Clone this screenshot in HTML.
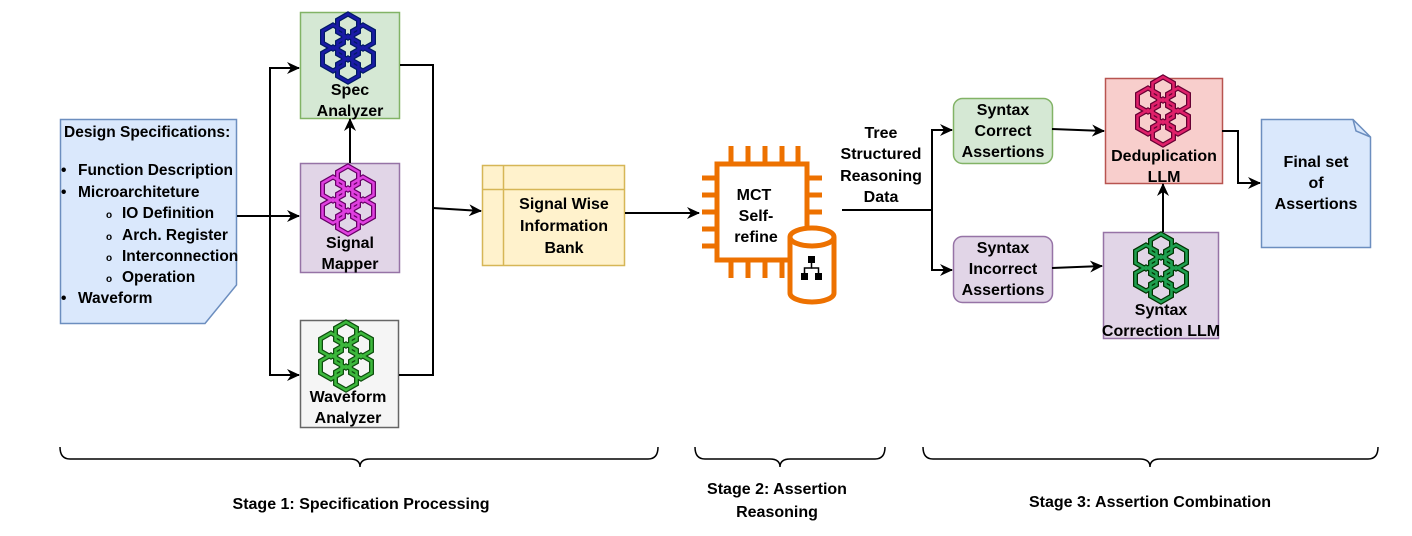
<!DOCTYPE html>
<html><head><meta charset="utf-8"><style>
html,body{margin:0;padding:0;background:#fff;}
svg{display:block;font-family:"Liberation Sans",Arial,sans-serif;font-weight:bold;}
</style></head><body>
<svg width="1412" height="536" viewBox="0 0 1412 536" xmlns="http://www.w3.org/2000/svg">
<defs>
<marker id="a" markerWidth="13" markerHeight="12" refX="12" refY="6" orient="auto" markerUnits="userSpaceOnUse">
<path d="M0,0 L13,6 L0,12 L4,6 z" fill="#000"/></marker>
<g id="hx">
<polygon points="0,-12 10.5,-6 10.5,6 0,12 -10.5,6 -10.5,-6" fill="none"/>
</g>
<g id="ic">
<use href="#hx" x="0" y="-22"/>
<use href="#hx" x="-15" y="-11"/>
<use href="#hx" x="15" y="-11"/>
<use href="#hx" x="0" y="0"/>
<use href="#hx" x="-15" y="11"/>
<use href="#hx" x="15" y="11"/>
<use href="#hx" x="0" y="22"/>
</g>
</defs>

<!-- Design spec doc -->
<path d="M60.5,119.5 H236.5 V285 L205,323.5 H60.5 Z" fill="#dae8fc" stroke="#6c8ebf" stroke-width="1.5"/>
<g font-size="15.5" fill="#000">
<text x="64" y="137">Design Specifications:</text>
<text x="61" y="175">•</text><text x="78" y="175">Function Description</text>
<text x="61" y="197">•</text><text x="78" y="197">Microarchiteture</text>
<text x="106" y="218" font-size="10">o</text><text x="122" y="218">IO Definition</text>
<text x="106" y="240" font-size="10">o</text><text x="122" y="240">Arch. Register</text>
<text x="106" y="261" font-size="10">o</text><text x="122" y="261">Interconnection</text>
<text x="106" y="282" font-size="10">o</text><text x="122" y="282">Operation</text>
<text x="61" y="303">•</text><text x="78" y="303">Waveform</text>
</g>

<!-- Stage 1 boxes -->
<rect x="300.5" y="12.5" width="99" height="106" fill="#d5e8d4" stroke="#82b366" stroke-width="1.5"/>
<rect x="300.5" y="163.5" width="99" height="109" fill="#e1d5e7" stroke="#9673a6" stroke-width="1.5"/>
<rect x="300.5" y="320.5" width="98" height="107" fill="#f5f5f5" stroke="#666" stroke-width="1.5"/>
<g stroke="#001a66" stroke-width="5"><use href="#ic" x="348" y="48"/></g>
<g stroke="#1a1aa6" stroke-width="2.5"><use href="#ic" x="348" y="48"/></g>
<g stroke="#660066" stroke-width="5"><use href="#ic" x="348" y="200"/></g>
<g stroke="#e040e0" stroke-width="2.5"><use href="#ic" x="348" y="200"/></g>
<g stroke="#0d4d0d" stroke-width="5"><use href="#ic" x="346" y="356"/></g>
<g stroke="#3cb83c" stroke-width="2.5"><use href="#ic" x="346" y="356"/></g>
<g font-size="16" text-anchor="middle">
<text x="350" y="95">Spec</text><text x="350" y="116">Analyzer</text>
<text x="350" y="248">Signal</text><text x="350" y="269">Mapper</text>
<text x="348" y="402">Waveform</text><text x="348" y="423">Analyzer</text>
</g>

<!-- Bank -->
<rect x="482.5" y="165.5" width="142" height="100" fill="#fff2cc" stroke="#d6b656" stroke-width="1.5"/>
<line x1="503.5" y1="165.5" x2="503.5" y2="265.5" stroke="#d6b656" stroke-width="1.5"/>
<line x1="482.5" y1="189.5" x2="624.5" y2="189.5" stroke="#d6b656" stroke-width="1.5"/>
<g font-size="16" text-anchor="middle">
<text x="564" y="209">Signal Wise</text><text x="564" y="231">Information</text><text x="564" y="253">Bank</text>
</g>

<!-- Stage 1 connectors -->
<g stroke="#000" stroke-width="2" fill="none">
<line x1="237" y1="216" x2="299" y2="216" marker-end="url(#a)"/>
<polyline points="270,216 270,68 299,68" marker-end="url(#a)"/>
<polyline points="270,216 270,375 299,375" marker-end="url(#a)"/>
<line x1="350" y1="163" x2="350" y2="119" marker-end="url(#a)"/>
<polyline points="400,65 433,65 433,375 399,375"/>
<line x1="433" y1="208" x2="481" y2="211" marker-end="url(#a)"/>
<line x1="625" y1="213" x2="699" y2="213" marker-end="url(#a)"/>
</g>

<!-- Chip -->
<g fill="none" stroke="#ed7100" stroke-width="5">
<rect x="717" y="164" width="90" height="96"/>
<line x1="731" y1="164" x2="731" y2="146"/><line x1="748" y1="164" x2="748" y2="146"/><line x1="765" y1="164" x2="765" y2="146"/><line x1="782" y1="164" x2="782" y2="146"/><line x1="798" y1="164" x2="798" y2="146"/>
<line x1="731" y1="260" x2="731" y2="278"/><line x1="748" y1="260" x2="748" y2="278"/><line x1="765" y1="260" x2="765" y2="278"/><line x1="782" y1="260" x2="782" y2="278"/>
<line x1="717" y1="178" x2="702" y2="178"/><line x1="717" y1="195" x2="702" y2="195"/><line x1="717" y1="212" x2="702" y2="212"/><line x1="717" y1="229" x2="702" y2="229"/><line x1="717" y1="246" x2="702" y2="246"/>
<line x1="807" y1="178" x2="822" y2="178"/><line x1="807" y1="195" x2="822" y2="195"/><line x1="807" y1="212" x2="822" y2="212"/>
</g>
<path d="M790,237 V293 A22,9 0 0 0 834,293 V237" fill="#fff" stroke="#ed7100" stroke-width="5"/>
<ellipse cx="812" cy="237" rx="22" ry="9" fill="#fff" stroke="#ed7100" stroke-width="5"/>
<g fill="#000">
<rect x="808" y="256" width="7" height="7"/>
<rect x="801" y="273" width="7" height="7"/>
<rect x="815" y="273" width="7" height="7"/>
<polyline points="811.5,263 811.5,268 804.5,268 804.5,273" fill="none" stroke="#000" stroke-width="1.5"/>
<polyline points="811.5,268 818.5,268 818.5,273" fill="none" stroke="#000" stroke-width="1.5"/>
</g>
<g font-size="16" text-anchor="middle">
<text x="754" y="200">MCT</text><text x="756" y="221">Self-</text><text x="756" y="242">refine</text>
</g>

<!-- Tree text -->
<g font-size="16" text-anchor="middle">
<text x="881" y="138">Tree</text><text x="881" y="159">Structured</text><text x="881" y="181">Reasoning</text><text x="881" y="202">Data</text>
</g>

<!-- Stage 3 -->
<rect x="953.5" y="98.5" width="99" height="65" rx="9" fill="#d5e8d4" stroke="#82b366" stroke-width="1.5"/>
<rect x="953.5" y="236.5" width="99" height="66" rx="9" fill="#e1d5e7" stroke="#9673a6" stroke-width="1.5"/>
<rect x="1105.5" y="78.5" width="117" height="105" fill="#f8cecc" stroke="#b85450" stroke-width="1.5"/>
<rect x="1103.5" y="232.5" width="115" height="106" fill="#e1d5e7" stroke="#9673a6" stroke-width="1.5"/>
<g stroke="#660033" stroke-width="5"><use href="#ic" x="1163" y="111"/></g>
<g stroke="#e0206a" stroke-width="2.5"><use href="#ic" x="1163" y="111"/></g>
<g stroke="#003300" stroke-width="5"><use href="#ic" x="1161" y="268"/></g>
<g stroke="#1fa050" stroke-width="2.5"><use href="#ic" x="1161" y="268"/></g>
<g font-size="16" text-anchor="middle">
<text x="1003" y="115">Syntax</text><text x="1003" y="136">Correct</text><text x="1003" y="157">Assertions</text>
<text x="1003" y="253">Syntax</text><text x="1003" y="274">Incorrect</text><text x="1003" y="295">Assertions</text>
<text x="1164" y="161">Deduplication</text><text x="1164" y="182">LLM</text>
<text x="1161" y="315">Syntax</text><text x="1161" y="336">Correction LLM</text>
</g>
<path d="M1261.5,119.5 H1353 L1370.5,137 V247.5 H1261.5 Z" fill="#dae8fc" stroke="#6c8ebf" stroke-width="1.5"/>
<path d="M1353,119.5 L1356,131 L1370.5,137" fill="none" stroke="#6c8ebf" stroke-width="1.5"/>
<g font-size="16" text-anchor="middle">
<text x="1316" y="167">Final set</text><text x="1316" y="188">of</text><text x="1316" y="209">Assertions</text>
</g>

<g stroke="#000" stroke-width="2" fill="none">
<polyline points="842,210 932,210"/>
<polyline points="932,210 932,130 952,130" marker-end="url(#a)"/>
<polyline points="932,210 932,270 952,270" marker-end="url(#a)"/>
<line x1="1052" y1="129" x2="1104" y2="131" marker-end="url(#a)"/>
<line x1="1052" y1="268" x2="1102" y2="266" marker-end="url(#a)"/>
<line x1="1163" y1="232" x2="1163" y2="184" marker-end="url(#a)"/>
<polyline points="1222,131 1238,131 1238,183 1260,183" marker-end="url(#a)"/>
</g>

<!-- Braces -->
<g stroke="#000" stroke-width="1.5" fill="none">
<path d="M60,447 Q60,459 70,459 H350 Q360,459 360,467 Q360,459 370,459 H648 Q658,459 658,447"/>
<path d="M695,447 Q695,459 705,459 H770 Q780,459 780,467 Q780,459 790,459 H875 Q885,459 885,447"/>
<path d="M923,447 Q923,459 933,459 H1140 Q1150,459 1150,467 Q1150,459 1160,459 H1368 Q1378,459 1378,447"/>
</g>
<g font-size="16" text-anchor="middle">
<text x="361" y="509">Stage 1: Specification Processing</text>
<text x="777" y="494">Stage 2: Assertion</text><text x="777" y="517">Reasoning</text>
<text x="1150" y="507">Stage 3: Assertion Combination</text>
</g>
</svg>
</body></html>
